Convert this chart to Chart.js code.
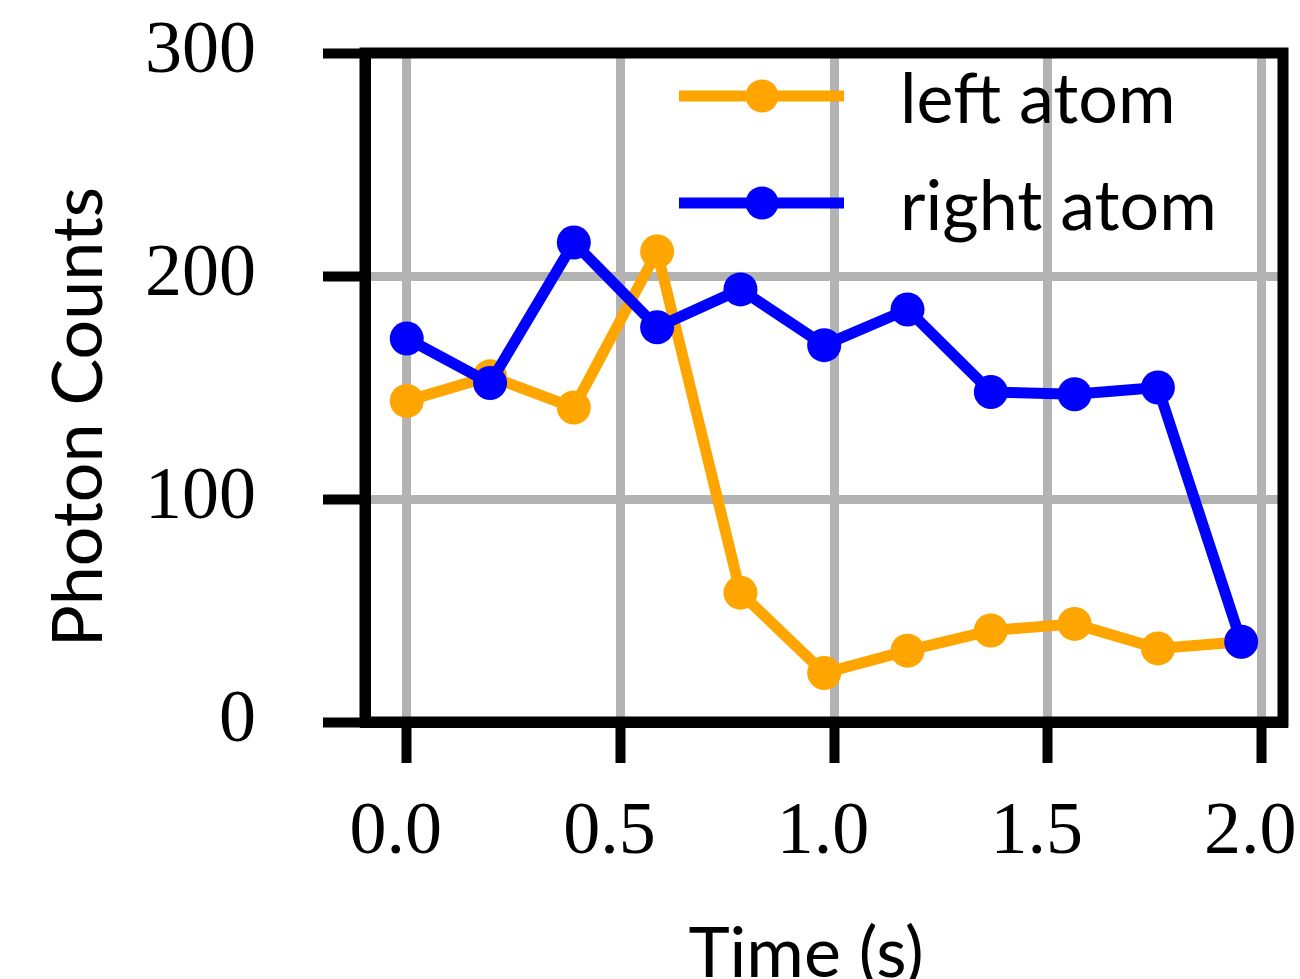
<!DOCTYPE html>
<html>
<head>
<meta charset="utf-8">
<script src="https://cdn.jsdelivr.net/npm/chart.js@4.4.1/dist/chart.umd.min.js"></script>
<style>
  html, body { margin: 0; padding: 0; background: #fff; overflow: hidden; }
  #wrap { width: 1300px; height: 979px; }
</style>
</head>
<body>
<div id="wrap"><canvas id="chart"></canvas></div>
<script>
const times = [0, 0.195, 0.391, 0.586, 0.781, 0.977, 1.172, 1.367, 1.563, 1.758, 1.953];
const leftAtom = [144, 155, 141, 211, 58, 22, 32, 41, 44, 33, 36];
const rightAtom = [172, 152, 215, 177, 194, 169, 185, 148, 147, 150, 36];
const xTicks = [0, 0.5, 1, 1.5, 2];
const yTicks = [0, 100, 200, 300];
const seriesNames = ["left atom", "right atom"];
const xTitle = "Time (s)";
const yTitle = "Photon Counts";

const ORANGE = "#ffa500", BLUE = "#0000ff", GRID = "#b3b3b3";
const SANS = "Lato, 'DejaVu Sans', sans-serif";
const SERIF = "'Liberation Serif', 'DejaVu Serif', serif";

const pts = (ys) => times.map((t, i) => ({ x: t, y: ys[i] }));

// top/right spines, axis titles and the line+marker legend
const decor = {
  id: "decor",
  afterDraw(chart) {
    const { ctx, chartArea: a } = chart;
    ctx.save();
    ctx.strokeStyle = "#000";
    ctx.lineWidth = 11;
    ctx.lineJoin = "miter";
    ctx.strokeRect(a.left, a.top, a.right - a.left, a.bottom - a.top);

    ctx.fillStyle = "#000";
    ctx.font = `70px ${SANS}`;
    ctx.textAlign = "center";
    ctx.textBaseline = "alphabetic";
    ctx.fillText(xTitle, 806, 977);
    ctx.save();
    ctx.translate(102, 417);
    ctx.rotate(-Math.PI / 2);
    ctx.fillText(yTitle, 0, 0);
    ctx.restore();

    chart.data.datasets.forEach((ds, i) => {
      const y = 96 + i * 107;
      ctx.strokeStyle = ds.borderColor;
      ctx.lineWidth = 11;
      ctx.lineCap = "butt";
      ctx.beginPath();
      ctx.moveTo(679, y);
      ctx.lineTo(844, y);
      ctx.stroke();
      ctx.fillStyle = ds.borderColor;
      ctx.beginPath();
      ctx.arc(762, y, 16.5, 0, Math.PI * 2);
      ctx.fill();
      ctx.fillStyle = "#000";
      ctx.textAlign = "left";
      ctx.fillText(ds.label, 900, y + 27);
    });
    ctx.restore();
  },
};

new Chart(document.getElementById("chart"), {
  type: "line",
  data: {
    datasets: [
      { label: seriesNames[0], data: pts(leftAtom), borderColor: ORANGE, backgroundColor: ORANGE, order: 2 },
      { label: seriesNames[1], data: pts(rightAtom), borderColor: BLUE, backgroundColor: BLUE, order: 1 },
    ],
  },
  options: {
    responsive: true,
    maintainAspectRatio: false,
    animation: false,
    layout: { padding: { left: 0, top: 53, right: 16, bottom: 0 } },
    elements: {
      line: { borderWidth: 11, tension: 0, borderJoinStyle: "round" },
      point: { radius: 17, borderWidth: 0, hoverRadius: 17 },
    },
    plugins: { legend: { display: false }, tooltip: { enabled: false } },
    scales: {
      x: {
        type: "linear",
        min: -0.0977,
        max: 2.0508,
        afterBuildTicks: (s) => { s.ticks = xTicks.map((v) => ({ value: v })); },
        afterFit: (s) => { s.height = 257; s.paddingLeft = 0; s.paddingRight = 0; },
        grid: { color: GRID, lineWidth: 9, tickColor: "#000", tickWidth: 10, tickLength: 41 },
        border: { color: "#000", width: 11 },
        ticks: {
          font: { family: SERIF, size: 74, lineHeight: 1 },
          color: "#000",
          padding: 34,
          labelOffset: -11,
          maxRotation: 0,
          callback: (v) => Number(v).toFixed(1),
        },
      },
      y: {
        min: 0,
        max: 300,
        afterBuildTicks: (s) => { s.ticks = yTicks.map((v) => ({ value: v })); },
        afterFit: (s) => { s.width = 365; s.paddingTop = 0; s.paddingBottom = 0; },
        grid: { color: GRID, lineWidth: 9, tickColor: "#000", tickWidth: 10, tickLength: 42 },
        border: { color: "#000", width: 11 },
        ticks: {
          font: { family: SERIF, size: 74, lineHeight: 1 },
          color: "#000",
          padding: 67,
          callback: (v) => String(v),
        },
      },
    },
  },
  plugins: [decor],
});
</script>
</body>
</html>
